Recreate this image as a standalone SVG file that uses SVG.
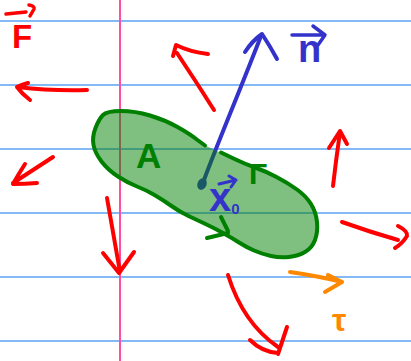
<svg xmlns="http://www.w3.org/2000/svg" width="411" height="361" viewBox="0 0 411 361">
  <style>
    .rule { stroke: #5aa2f0; stroke-width: 1.6; }
    .margin { stroke: #ff4da6; stroke-width: 2; }
    .pen { fill: none; stroke-width: 4; stroke-linecap: round; stroke-linejoin: round; }
    .red { stroke: #ff0000; }
    .blue { stroke: #3333cc; }
    .orange { stroke: #ff8800; }
    .green { stroke: #008000; }
    .lbl { font-family: "Liberation Sans", Arial, sans-serif; font-weight: bold; }
  </style>
  <rect x="0" y="0" width="411" height="361" fill="#ffffff"/>
  <g id="paper">
    <line class="rule" x1="0" y1="21" x2="411" y2="21"/>
    <line class="rule" x1="0" y1="85" x2="411" y2="85"/>
    <line class="rule" x1="0" y1="149" x2="411" y2="149"/>
    <line class="rule" x1="0" y1="213" x2="411" y2="213"/>
    <line class="rule" x1="0" y1="277" x2="411" y2="277"/>
    <line class="rule" x1="0" y1="341" x2="411" y2="341"/>
    <line class="margin" x1="120" y1="0" x2="120" y2="361"/>
  </g>
  <g id="connectors">
    <!-- normal vector n -->
    <g id="normal-arrow">
      <ellipse cx="202" cy="184" rx="4.5" ry="6" transform="rotate(25 202 184)" fill="#3333cc"/>
      <path class="pen blue" d="M 204,180 C 215,150 240,90 261,36"/>
      <path class="pen blue" d="M 245,52 Q 252,41 262,34 Q 270,46 277,59"/>
    </g>
    <!-- traction / force arrows -->
    <path class="pen red" d="M 87,90 Q 50,91 18,87 M 28,83 Q 21,85 17,87 Q 22,94 30,100"/>
    <path class="pen red" d="M 53,157 L 13,183 M 25,164 Q 18,175 13,184 Q 25,184 37,183"/>
    <path class="pen red" d="M 214,110 Q 195,80 177,53 M 173,56 L 176,45 Q 190,52 208,54"/>
    <path class="pen red" d="M 107,198 L 120,272 M 103,253 L 119,273 L 134,252"/>
    <path class="pen red" d="M 333,186 Q 336,160 340,132 M 329,148 L 340,131 L 347,144"/>
    <path class="pen red" d="M 342,222 Q 370,232 398,240 M 398,226 Q 408,231 407,236 Q 402,244 395,248"/>
    <path class="pen red" d="M 228,275 Q 243,323 278,347 M 287,327 L 278,354 M 250,340 Q 262,352 278,353"/>
    <path class="pen orange" d="M 290,272 Q 318,276 342,282 M 328,275 L 342,282 L 325,292"/>
  </g>
  <g id="region-A">
    <path fill="#008000" fill-opacity="0.5" d="M 103,115 Q 107,111 121,111 Q 135,111 150,115.5 Q 165,120 177.5,127 Q 190,134 197.5,140 Q 205,146 213.5,149.5 Q 222,153 233.5,158.5 Q 245,164 255,167.5 Q 265,171 276.5,177 Q 288,183 297,189.5 Q 306,196 311,204 Q 316,212 317,222 Q 318,232 315,240 Q 312,248 305,252 Q 298,256 289,257 Q 280,258 271,256 Q 262,254 254,250.5 Q 246,247 239,242.5 Q 232,238 223,233 Q 214,228 205.5,224 Q 197,220 188.5,216 Q 180,212 171.5,206 Q 163,200 154.5,195 Q 146,190 137,186.5 Q 128,183 118,176.5 Q 108,170 101.5,161.5 Q 95,153 93.5,145 Q 92,137 95.5,128 Q 99,119 103,115 Z"/>
    <path class="pen green" d="M 221,152.5 L 233.5,158.5 Q 245,164 255,167.5 Q 265,171 276.5,177 Q 288,183 297,189.5 Q 306,196 311,204 Q 316,212 317,222 Q 318,232 315,240 Q 312,248 305,252 Q 298,256 289,257 Q 280,258 271,256 Q 262,254 254,250.5 Q 246,247 239,242.5 Q 232,238 223,233 Q 214,228 205.5,224 Q 197,220 188.5,216 Q 180,212 171.5,206 Q 163,200 154.5,195 Q 146,190 137,186.5 Q 128,183 118,176.5 Q 108,170 101.5,161.5 Q 95,153 93.5,145 Q 92,137 95.5,128 Q 99,119 103,115 Q 107,111 121,111 Q 135,111 150,115.5 Q 165,120 177.5,127 Q 190,134 197.5,140 L 205,145.5"/>
    <path class="pen green" d="M 221,217 L 228,231 M 207,238 L 228,233"/>
  </g>
  <g id="label-F">
    <path class="pen red" d="M 6,14 L 26,12 M 29,5 Q 35,6 34,9 L 30,16" style="stroke-width:3.5"/>
    <text class="lbl" x="12" y="48" font-size="33" fill="#ff0000">F</text>
  </g>
  <g id="label-n">
    <path class="pen blue" d="M 292,35 L 323,35 M 313,26 L 325,35 L 318,45" style="stroke-width:3.5"/>
    <text class="lbl" x="298" y="62" font-size="38" fill="#3333cc">n</text>
  </g>
  <g id="label-A">
    <text class="lbl" x="136" y="168" font-size="35" fill="#008000">A</text>
  </g>
  <g id="label-Gamma">
    <text class="lbl" x="249" y="184" font-size="30" fill="#008000">Γ</text>
  </g>
  <g id="label-x0">
    <path class="pen blue" d="M 219,184 L 236,180 M 229,176 L 236,180 L 231,187" style="stroke-width:3"/>
    <text class="lbl" x="209" y="211" font-size="40" fill="#3333cc">x<tspan font-size="15" dy="3">0</tspan></text>
  </g>
  <g id="label-tau">
    <text class="lbl" x="332" y="331" font-size="32" fill="#ff8800">τ</text>
  </g>
</svg>
